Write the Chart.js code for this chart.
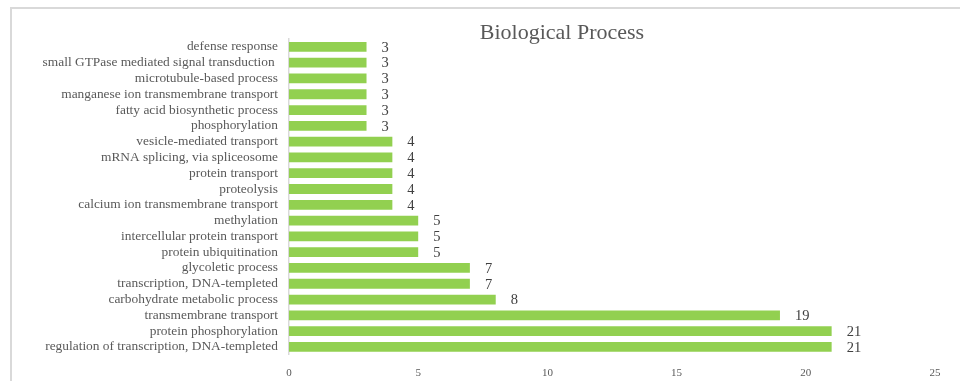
<!DOCTYPE html>
<html>
<head>
<meta charset="utf-8">
<script src="https://cdn.jsdelivr.net/npm/chart.js@4"></script>
<style>
  html, body { margin: 0; padding: 0; background: #fff; overflow: hidden; width: 960px; height: 381px; }
  #box { position: absolute; left: 10px; top: 7px; width: 1100px; height: 386px; border: 2px solid #d9d9d9; border-right: none; border-bottom: none; }
</style>
</head>
<body>
<div id="box"><canvas id="myChart"></canvas></div>
<script>
const categories = [
  "defense response",
  "small GTPase mediated signal transduction ",
  "microtubule-based process",
  "manganese ion transmembrane transport",
  "fatty acid biosynthetic process",
  "phosphorylation",
  "vesicle-mediated transport",
  "mRNA splicing, via spliceosome",
  "protein transport",
  "proteolysis",
  "calcium ion transmembrane transport",
  "methylation",
  "intercellular protein transport",
  "protein ubiquitination",
  "glycoletic process",
  "transcription, DNA-templeted",
  "carbohydrate metabolic process",
  "transmembrane transport",
  "protein phosphorylation",
  "regulation of transcription, DNA-templeted"
];
const counts = [3, 3, 3, 3, 3, 3, 4, 4, 4, 4, 4, 5, 5, 5, 7, 7, 8, 19, 21, 21];
const xTicks = [0, 5, 10, 15, 20, 25];

const serif = "'Liberation Serif', 'Times New Roman', serif";

// value labels at the end of each bar
const valueLabels = {
  id: "valueLabels",
  afterDatasetsDraw(chart) {
    const ctx = chart.ctx;
    const meta = chart.getDatasetMeta(0);
    ctx.save();
    ctx.font = "14.5px " + serif;
    ctx.fillStyle = "#404040";
    ctx.textAlign = "left";
    ctx.textBaseline = "middle";
    meta.data.forEach((bar, i) => {
      ctx.fillText(String(counts[i]), bar.x + 15, bar.y + 1);
    });
    ctx.restore();
  }
};

const ctx = document.getElementById("myChart").getContext("2d");
const config = {
  type: "bar",
  data: {
    labels: categories,
    datasets: [
      {
        data: counts,
        backgroundColor: "#92d050",
        borderWidth: 0,
        barPercentage: 0.62,
        categoryPercentage: 1.0,
      },
    ],
  },
  options: {
    indexAxis: "y",
    responsive: false,
    animation: false,
    layout: { padding: { left: 0, right: 0, top: 0, bottom: 3 } },
    plugins: {
      legend: { display: false },
      tooltip: { enabled: false },
      title: {
        display: true,
        text: "Biological Process",
        color: "#595959",
        font: { family: serif, size: 22, weight: "normal", lineHeight: 1 },
        padding: { top: 13, bottom: -5 },
      },
    },
    scales: {
      x: {
        min: 0,
        max: 25,
        afterBuildTicks: (scale) => {
          scale.ticks = xTicks.map((v) => ({ value: v }));
        },
        grid: { display: false, drawTicks: false },
        border: { display: false },
        ticks: {
          color: "#595959",
          font: { family: serif, size: 11 },
          padding: 12,
        },
      },
      y: {
        afterFit: (scale) => {
          scale.width = 277;
        },
        grid: { display: false, drawTicks: false },
        border: { display: true, color: "#d9d9d9", width: 1.5 },
        ticks: {
          autoSkip: false,
          color: "#595959",
          font: { family: serif, size: 13.4 },
          padding: 11,
        },
      },
      // empty right-hand axis: reserves the blank strip right of the plot
      yRight: {
        type: "category",
        position: "right",
        afterFit: (scale) => {
          scale.width = 177;
        },
        grid: { display: false, drawTicks: false },
        border: { display: false },
        ticks: { display: false },
      },
    },
  },
  plugins: [valueLabels],
};

const canvas = document.getElementById("myChart");
canvas.width = 1100;
canvas.height = 386;
canvas.style.width = "1100px";
canvas.style.height = "386px";
const myChart = new Chart(ctx, config);
</script>
</body>
</html>
